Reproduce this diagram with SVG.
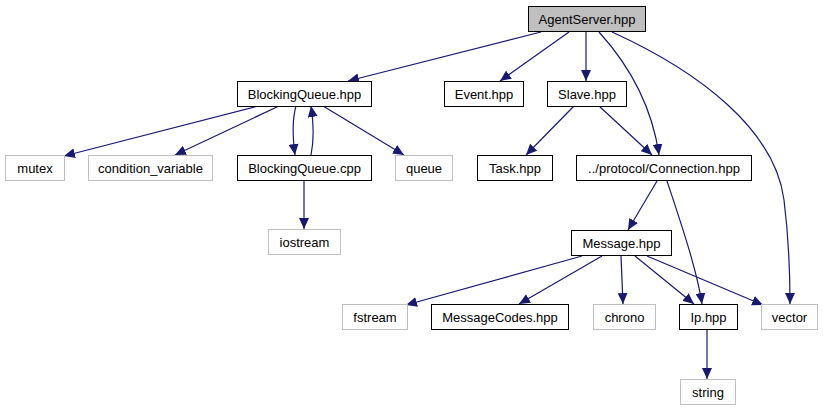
<svg xmlns="http://www.w3.org/2000/svg" width="823" height="411" viewBox="0 0 823 411">
<style>
.n rect{fill:#fff;stroke:#000;stroke-width:1}
.g rect{fill:#fff;stroke:#bfbfbf;stroke-width:1}
.root rect{fill:#bfbfbf;stroke:#000;stroke-width:1}
text{font-family:"Liberation Sans",Arial,sans-serif;font-size:13px;fill:#000;text-anchor:middle}
#edges path{fill:none;stroke:#191970;stroke-width:1.2;marker-end:url(#a)}
</style>
<defs>
<marker id="a" markerWidth="12" markerHeight="10" refX="11" refY="5" orient="auto" markerUnits="userSpaceOnUse">
<path d="M0,0 L11,5 L0,10 z" fill="#191970" stroke="none"/>
</marker>
</defs>
<rect width="823" height="411" fill="#fff"/>
<g id="edges">
<path d="M541,32 L348,81"/>
<path d="M569,32 L500,81"/>
<path d="M586,32 L586,81"/>
<path d="M599,32 C628,64 652,106 659,155"/>
<path d="M612,32 C700,72 775,130 784,200 C789,240 790,270 790,304"/>
<path d="M258,106 L64,156"/>
<path d="M279,106 L175,155"/>
<path d="M296,106 C292,120 293,140 295,155"/>
<path d="M311,155 C314,140 314,125 311,106"/>
<path d="M323,106 L404,155"/>
<path d="M304,181 L304,229"/>
<path d="M574,106 L526,155"/>
<path d="M599,106 L652,155"/>
<path d="M657,181 L628,230"/>
<path d="M667,181 C680,220 697,270 702,304"/>
<path d="M582,256 L406,305"/>
<path d="M602,256 L519,304"/>
<path d="M621,256 L623,304"/>
<path d="M635,256 L694,304"/>
<path d="M647,256 L763,305"/>
<path d="M707,330 L707,379"/>
</g>
<g id="AgentServer" class="root"><rect x="528.5" y="6.5" width="117" height="25"/><text x="587" y="23.5">AgentServer.hpp</text></g>
<g id="BlockingQueueHpp" class="n"><rect x="237.5" y="81.5" width="134" height="25"/><text x="304.5" y="98.5">BlockingQueue.hpp</text></g>
<g id="EventHpp" class="n"><rect x="444.5" y="81.5" width="79" height="25"/><text x="484" y="98.5">Event.hpp</text></g>
<g id="SlaveHpp" class="n"><rect x="547.5" y="81.5" width="79" height="25"/><text x="587" y="98.5">Slave.hpp</text></g>
<g id="mutex" class="g"><rect x="5.5" y="155.5" width="59" height="25"/><text x="35" y="172.5">mutex</text></g>
<g id="condition_variable" class="g"><rect x="88.5" y="155.5" width="124" height="25"/><text x="150.5" y="172.5">condition_variable</text></g>
<g id="BlockingQueueCpp" class="n"><rect x="237.5" y="155.5" width="134" height="25"/><text x="304.5" y="172.5">BlockingQueue.cpp</text></g>
<g id="queue" class="g"><rect x="395.5" y="155.5" width="57" height="25"/><text x="424" y="172.5">queue</text></g>
<g id="TaskHpp" class="n"><rect x="477.5" y="155.5" width="75" height="25"/><text x="515" y="172.5">Task.hpp</text></g>
<g id="ConnectionHpp" class="n"><rect x="576.5" y="155.5" width="175" height="25"/><text x="664" y="172.5">../protocol/Connection.hpp</text></g>
<g id="iostream" class="g"><rect x="268.5" y="229.5" width="72" height="25"/><text x="304.5" y="246.5">iostream</text></g>
<g id="MessageHpp" class="n"><rect x="571.5" y="230.5" width="100" height="25"/><text x="621.5" y="247.5">Message.hpp</text></g>
<g id="fstream" class="g"><rect x="342.5" y="304.5" width="65" height="25"/><text x="375" y="321.5">fstream</text></g>
<g id="MessageCodesHpp" class="n"><rect x="431.5" y="304.5" width="137" height="25"/><text x="500" y="321.5">MessageCodes.hpp</text></g>
<g id="chrono" class="g"><rect x="593.5" y="304.5" width="62" height="25"/><text x="624.5" y="321.5">chrono</text></g>
<g id="IpHpp" class="n"><rect x="679.5" y="304.5" width="58" height="25"/><text x="708.5" y="321.5">Ip.hpp</text></g>
<g id="vector" class="g"><rect x="761.5" y="304.5" width="56" height="25"/><text x="789.5" y="321.5">vector</text></g>
<g id="string" class="g"><rect x="680.5" y="379.5" width="55" height="25"/><text x="708" y="396.5">string</text></g>
</svg>
